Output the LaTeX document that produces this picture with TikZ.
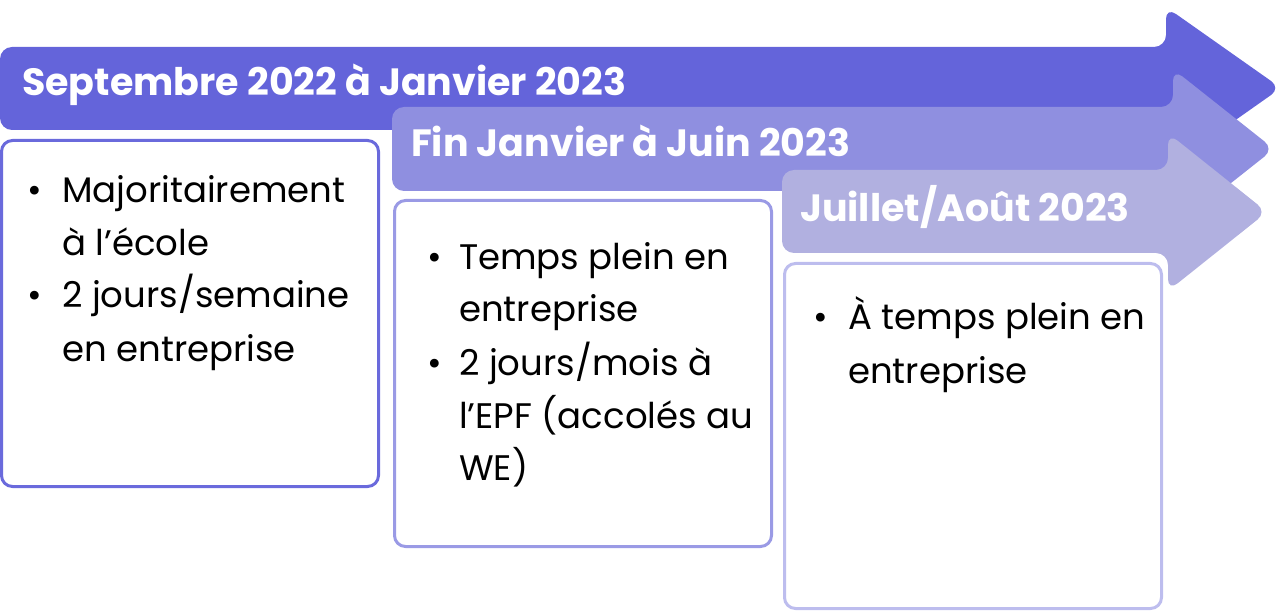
\documentclass[tikz,border=0pt]{standalone}
\usepackage{fontspec}
\setmainfont{Poppins}
\definecolor{arrowA}{HTML}{6464DA}
\definecolor{arrowB}{HTML}{8F8FE0}
\definecolor{arrowC}{HTML}{B1B0E0}
\definecolor{frameA}{HTML}{6A6ADC}
\definecolor{frameB}{HTML}{9A9AE5}
\definecolor{frameC}{HTML}{BDBDEE}
\begin{document}
\begin{tikzpicture}[x=1pt,y=-1pt,
  phase/.style={rounded corners=12pt},
  card/.style={line width=3pt,rounded corners=11pt,fill=white},
  title/.style={anchor=base west,inner sep=0pt,text=white,font=\fontsize{38}{46}\selectfont\bfseries},
  line/.style={anchor=base west,inner sep=0pt,text=black,font=\fontsize{35.5}{42}\selectfont},
  dot/.style={anchor=base,inner sep=0pt,text=black,font=\fontsize{35.5}{42}\selectfont}]
\useasboundingbox (0,0) rectangle (1280,612);

% three overlapping phase arrows
\fill[arrowA,phase] (0,47) -- (1166,47) -- (1166,7) -- (1281,88) -- (1166,169) -- (1166,130) -- (0,130) -- cycle;
\fill[arrowB,phase] (392,107) -- (1173,107) -- (1173,69) -- (1274,149) -- (1173,229) -- (1173,191) -- (392,191) -- cycle;
\fill[arrowC,phase] (782,170) -- (1168,170) -- (1168,133) -- (1267,212) -- (1168,291) -- (1168,253) -- (782,253) -- cycle;

\node[title] (t1) at (22,96) {Septembre 2022 à Janvier 2023};
\node[title] (t2) at (411,157) {Fin Janvier à Juin 2023};
\node[title] (t3) at (800,222) {Juillet/Août 2023};

% detail cards
\draw[frameA,card] (1.5,140.5) rectangle (378.5,486.5);
\draw[frameB,card] (394.5,200.5) rectangle (771.5,546.5);
\draw[frameC,card] (784.5,263.5) rectangle (1161.5,608.5);

\node[dot] (b11) at (35,203) {•};
\node[line] (l11) at (62,203) {Majoritairement};
\node[line] (l12) at (62,256) {à l’école};
\node[dot] (b12) at (35,308) {•};
\node[line] (l13) at (62,308) {2 jours/semaine};
\node[line] (l14) at (62,361) {en entreprise};

\node[dot] (b21) at (435,270) {•};
\node[line] (l21) at (459,270) {Temps plein en};
\node[line] (l22) at (459,322) {entreprise};
\node[dot] (b22) at (435,375) {•};
\node[line] (l23) at (459,375) {2 jours/mois à};
\node[line] (l24) at (459,428) {l’EPF (accolés au};
\node[line] (l25) at (459,480) {WE)};

\node[dot] (b31) at (821,330) {•};
\node[line] (l31) at (848,330) {À temps plein en};
\node[line] (l32) at (848,383) {entreprise};
\end{tikzpicture}
\end{document}
